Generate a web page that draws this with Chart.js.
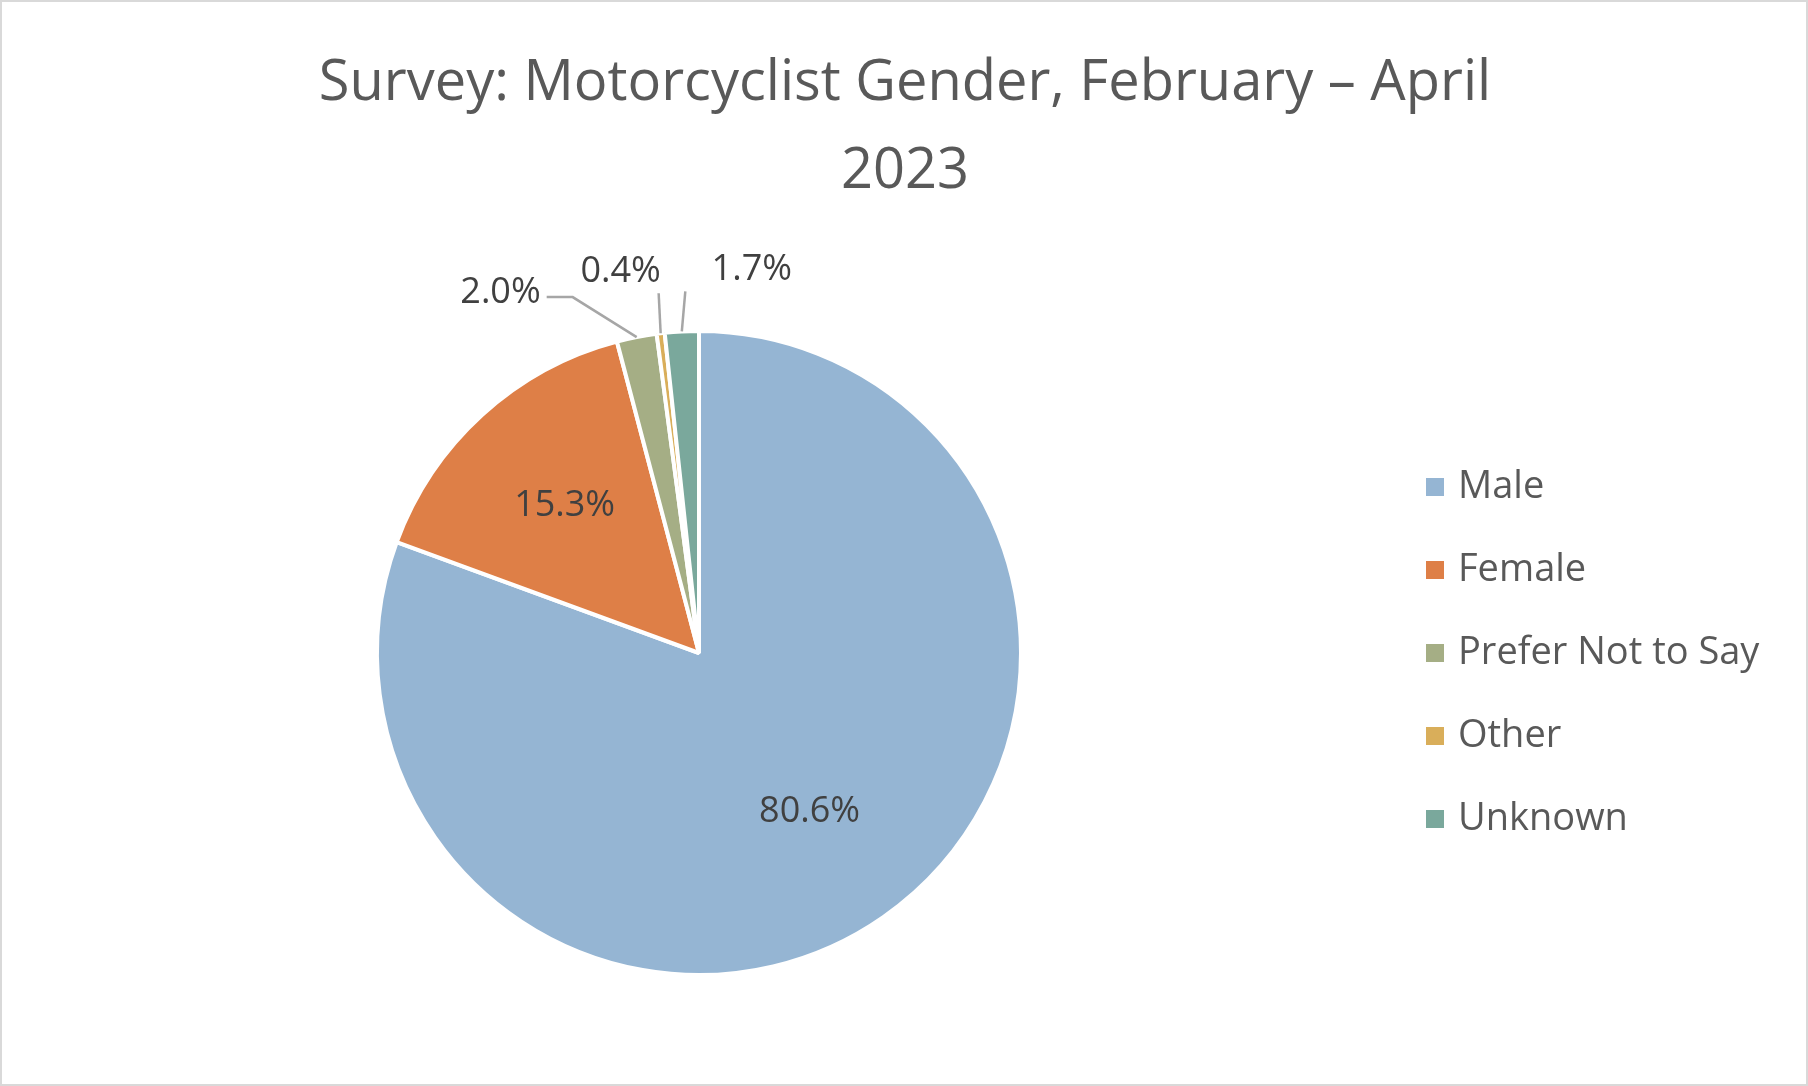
<!DOCTYPE html>
<html>
<head>
<meta charset="utf-8">
<script src="https://cdn.jsdelivr.net/npm/chart.js@4"></script>
<style>
  html, body { margin: 0; padding: 0; background: #fff; }
  #wrap { width: 1808px; height: 1086px; position: relative; box-sizing: border-box; border: 2px solid #d9d9d9; }
  canvas { display: block; }
</style>
</head>
<body>
<div id="wrap"><canvas id="chart" width="1804" height="1082"></canvas></div>
<script>
const categories = ['Male', 'Female', 'Prefer Not to Say', 'Other', 'Unknown'];
const shares = [80.6, 15.3, 2.0, 0.4, 1.7];
const colors = ['#95B5D3', '#DE7F47', '#A5AE85', '#D9AE5A', '#7AA89C'];
const titleLines = ['Survey: Motorcyclist Gender, February \u2013 April', '2023'];

const FONT = '"Open Sans", "Noto Sans", sans-serif';

// Title, slice labels and legend drawn on the canvas
const decorations = {
  id: 'decorations',
  afterDatasetsDraw(chart) {
    const ctx = chart.ctx;
    ctx.save();
    // title
    ctx.fillStyle = '#595959';
    ctx.font = '56px ' + FONT;
    ctx.textAlign = 'center';
    ctx.textBaseline = 'middle';
    ctx.fillText(titleLines[0], 903, 82);
    ctx.fillText(titleLines[1], 903, 170);

    // slice labels
    const arcs = chart.getDatasetMeta(0).data;
    ctx.font = '36px ' + FONT;
    ctx.fillStyle = '#404040';
    const outsideShift = { 2: [-90, -40], 3: [-40, -62], 4: [70, -62] };
    arcs.forEach((arc, i) => {
      const mid = (arc.startAngle + arc.endAngle) / 2;
      const r = arc.outerRadius;
      const text = shares[i].toFixed(1) + '%';
      if (shares[i] > 5) {
        const f = i === 0 ? 0.6 : 0.62;
        ctx.textAlign = 'center';
        ctx.fillText(text, arc.x + Math.cos(mid) * r * f, arc.y + Math.sin(mid) * r * f);
      } else {
        const ex = arc.x + Math.cos(mid) * r, ey = arc.y + Math.sin(mid) * r;
        const [dx, dy] = outsideShift[i];
        const lx = ex + dx, ly = ey + dy;
        ctx.strokeStyle = '#A6A6A6';
        ctx.lineWidth = 2.5;
        ctx.beginPath();
        ctx.moveTo(ex, ey);
        if (i === 2) {
          ctx.lineTo(lx + 26, ly);
          ctx.lineTo(lx, ly);
        } else {
          ctx.lineTo(ex + dx * 0.05, ly + 22);
        }
        ctx.stroke();
        if (i === 2) {
          ctx.textAlign = 'right';
          ctx.fillText(text, lx - 6, ly - 4);
        } else {
          ctx.textAlign = 'center';
          ctx.fillText(text, lx, ly);
        }
      }
    });

    // legend
    ctx.font = '38px ' + FONT;
    ctx.textAlign = 'left';
    categories.forEach((c, i) => {
      const y = 485 + i * 83;
      ctx.fillStyle = colors[i];
      ctx.fillRect(1424, y - 9, 18, 18);
      ctx.fillStyle = '#595959';
      ctx.fillText(c, 1456, y);
    });
    ctx.restore();
  }
};

new Chart(document.getElementById('chart'), {
  type: 'pie',
  data: {
    labels: categories,
    datasets: [{
      data: shares,
      backgroundColor: colors,
      borderColor: '#ffffff',
      borderWidth: 4
    }]
  },
  options: {
    responsive: false,
    animation: false,
    layout: { padding: { left: 373, right: 783, top: 327, bottom: 107 } },
    plugins: {
      legend: { display: false },
      title: { display: false },
      tooltip: { enabled: false }
    }
  },
  plugins: [decorations]
});
</script>
</body>
</html>
